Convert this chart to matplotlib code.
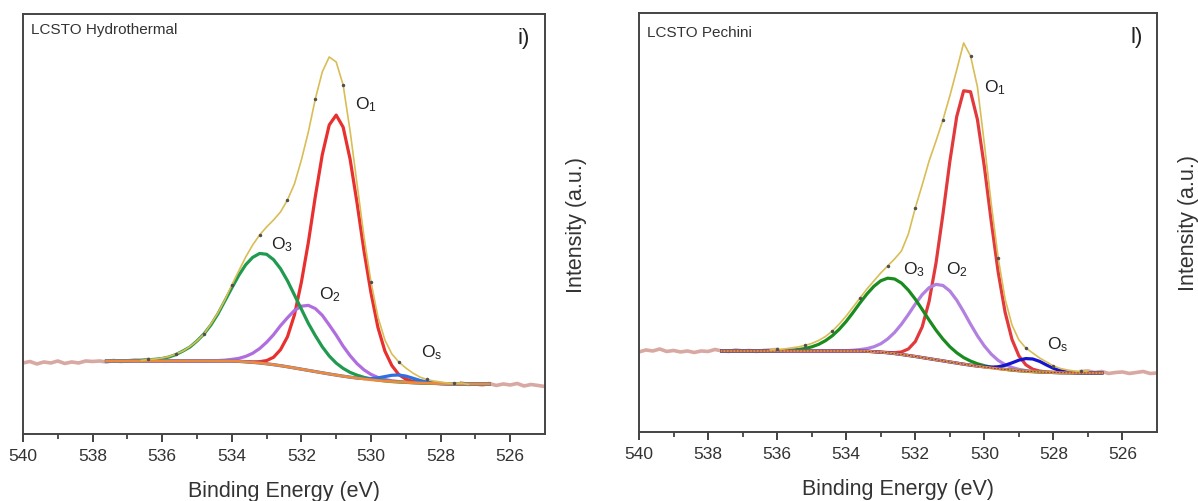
import numpy as np
import matplotlib
matplotlib.use("Agg")
from matplotlib import pyplot as plt
from matplotlib.ticker import FixedLocator

plt.rcParams["font.family"] = ["Liberation Sans", "DejaVu Sans"]
plt.rcParams["mathtext.fontset"] = "custom"
plt.rcParams["mathtext.rm"] = "Liberation Sans"
plt.rcParams["mathtext.it"] = "Liberation Sans:italic"

# ^ energy axes (eV): full scan and fitted window
raw_be = np.round(np.arange(540.0, 524.9, -0.2), 1)
fit_be = np.round(np.arange(537.6, 526.5, -0.2), 1)

# * LCSTO Hydrothermal (intensity in arbitrary units)
hyd_raw = [71, 72.5, 70, 72, 71, 73, 70.5, 72, 71, 73,
           72.5, 73, 72, 73.5, 72.5, 73, 74, 73.5, 74.5, 75,
           76, 77.5, 80, 83, 87.5, 93, 100, 110, 121, 134,
           149, 163, 177, 189, 199, 207, 214, 222, 234, 250,
           274, 302, 335, 362, 377, 372, 349, 303, 250, 197,
           152, 117, 94, 80, 72, 66, 61, 57, 54.5, 53,
           52, 51, 50.5, 51, 49.5, 50, 49, 50.5, 48.5, 50,
           49, 50.5, 48, 49.5, 48.5, 47.5]
hyd_bg = [73, 73, 73, 73, 73, 73, 73, 73,
          73, 73, 73, 73, 73,
          73, 73, 73, 73, 73,
          73, 72.6, 72.2, 71.6, 71.0,
          70.2, 69.3, 68.3, 67.2, 66.0,
          64.8, 63.6, 62.4, 61.2, 60.0,
          58.9, 57.8, 56.8, 55.9, 55.0,
          54.2, 53.5, 52.9, 52.4, 52.0,
          51.6, 51.3, 51.0, 50.8, 50.6,
          50.4, 50.2, 50.1, 50.0, 50.0,
          50.0, 50.0, 50.0]
hyd_o1 = [0, 0, 0, 0, 0, 0, 0, 0,
          0, 0, 0, 0, 0,
          0, 0, 0, 0, 0,
          0, 0, 0.2, 0.5, 1.3,
          3.2, 7.4, 16, 30, 53,
          87, 128, 175, 218, 249,
          260, 249, 218, 175, 128,
          87, 53, 30, 16, 7.4,
          3.2, 1.3, 0.5, 0.2, 0,
          0, 0, 0, 0, 0,
          0, 0, 0]
hyd_o2 = [0, 0, 0, 0, 0, 0, 0, 0,
          0, 0, 0, 0, 0,
          0, 0, 0.2, 0.4, 0.8,
          1.6, 3, 5.4, 9.1, 14.4,
          21.5, 30, 40, 49, 57.5,
          63, 65, 63, 57.5, 49,
          40, 30, 21.5, 14.4, 9.1,
          5.4, 3, 1.6, 0.8, 0.4,
          0.2, 0, 0, 0, 0,
          0, 0, 0, 0, 0,
          0, 0, 0]
hyd_o3 = [0, 0, 0.1, 0.2, 0.4, 0.7, 1.1, 1.7,
          2.5, 4, 6.5, 10, 14,
          20, 27, 36, 47, 60,
          73, 86, 97, 105, 109.5,
          109.5, 105, 97, 86, 73,
          60, 47, 36, 26, 18,
          12, 7.8, 4.8, 2.9, 1.6,
          0.9, 0.5, 0.2, 0, 0,
          0, 0, 0, 0, 0,
          0, 0, 0, 0, 0,
          0, 0, 0]
hyd_os = [0, 0, 0, 0, 0, 0, 0, 0,
          0, 0, 0, 0, 0,
          0, 0, 0, 0, 0,
          0, 0, 0, 0, 0,
          0, 0, 0, 0, 0,
          0, 0, 0, 0, 0,
          0, 0, 0, 0, 0.4,
          1.2, 2.6, 4.5, 6.3, 7,
          6.3, 4.5, 2.6, 1.2, 0.4,
          0, 0, 0, 0, 0,
          0, 0, 0]

# * LCSTO Pechini
pec_raw = [80, 82, 81, 83, 80.5, 81.5, 80, 81, 79.5, 81,
           80.5, 82.5, 81, 80.5, 82, 81, 81.5, 80.5, 81.5, 82,
           82.5, 83, 84, 85, 86.5, 88.5, 91.5, 95.5, 101, 108,
           116, 125, 134, 143, 151, 159, 166, 173, 181, 198,
           224, 247, 271, 291, 312, 336, 362, 389, 376, 345,
           288, 228, 174, 133, 107, 92, 84, 79, 74, 70,
           66, 63.5, 62, 61, 60.5, 61, 59.5, 60.5, 58.5, 59.5,
           60, 58.5, 59.5, 60.5, 58.5, 59]
pec_bg = [81, 81, 81, 81, 81, 81, 81, 81,
          81, 81, 81, 81, 81,
          81, 81, 81, 81, 81,
          81, 81, 81, 80.7, 80.3,
          79.8, 79.2, 78.4, 77.5, 76.5,
          75.5, 74.4, 73.3, 72.2, 71.1,
          70.0, 68.9, 67.8, 66.8, 65.8,
          64.9, 64.0, 63.2, 62.5, 61.8,
          61.2, 60.7, 60.3, 60.0, 59.7,
          59.5, 59.3, 59.2, 59.1, 59.0,
          59.0, 59.0, 59.0]
pec_o1 = [0, 0, 0, 0, 0, 0, 0, 0,
          0, 0, 0, 0, 0,
          0, 0, 0, 0, 0,
          0, 0, 0, 0, 0,
          0, 0.3, 0.9, 2.5, 6.5,
          14.9, 30.7, 57.3, 96.7, 146.5,
          200.3, 246.5, 273.4, 273.4, 246.5,
          200.3, 146.5, 96.7, 57.3, 30.7,
          14.9, 6.5, 2.5, 0.9, 0.3,
          0, 0, 0, 0, 0,
          0, 0, 0]
pec_o2 = [0, 0, 0, 0, 0, 0, 0, 0,
          0, 0, 0, 0, 0,
          0, 0, 0, 0, 0,
          0.3, 0.7, 1.4, 2.7, 4.9,
          8.4, 13.8, 21.1, 30.3, 41,
          52.4, 62.9, 71, 75.4, 75.4,
          71, 62.9, 52.4, 41, 30.3,
          21.1, 13.8, 8.4, 4.9, 2.7,
          1.4, 0.7, 0.3, 0, 0,
          0, 0, 0, 0, 0,
          0, 0, 0]
pec_o3 = [0, 0, 0, 0, 0, 0, 0, 0.1,
          0.2, 0.4, 0.7, 1.4, 2.4,
          4.1, 6.6, 10.3, 15.3, 21.8,
          29.6, 38.6, 48.1, 57.3, 65.3,
          71.4, 74.6, 74.6, 71.4, 65.3,
          57.3, 48.1, 38.6, 29.6, 21.8,
          15.3, 10.3, 6.6, 4.1, 2.4,
          1.4, 0.7, 0.4, 0.2, 0,
          0, 0, 0, 0, 0,
          0, 0, 0, 0, 0,
          0, 0, 0]
pec_os = [0, 0, 0, 0, 0, 0, 0, 0,
          0, 0, 0, 0, 0,
          0, 0, 0, 0, 0,
          0, 0, 0, 0, 0,
          0, 0, 0, 0, 0,
          0, 0, 0, 0, 0,
          0, 0, 0, 0, 0.1,
          0.3, 0.8, 2.0, 4.2, 7.3,
          10.6, 12.7, 12.7, 10.6, 7.3,
          4.2, 2.0, 0.8, 0.3, 0.1,
          0, 0, 0]

# ^ label positions (eV, intensity)
hyd_labels = [("O$_1$", 530.45, 330), ("O$_3$", 532.87, 190),
              ("O$_2$", 531.5, 140), (r"O$_\mathrm{s}$", 528.56, 82)]
pec_labels = [("O$_1$", 530.0, 345), ("O$_3$", 532.35, 163),
              ("O$_2$", 531.1, 163), (r"O$_\mathrm{s}$", 528.2, 88)]

panels = [
    dict(rect=[0.0192, 0.1335, 0.4357, 0.8367], top=420, title="LCSTO Hydrothermal",
         tag="i)", raw=hyd_raw, bg=hyd_bg, comps=[hyd_o1, hyd_o2, hyd_o3, hyd_os],
         colors=["#e8302e", "#b06de0", "#1f9a4e", "#2f6fe0"], bg_line=None,
         window=(536.4, 527.4), labels=hyd_labels, title_y=0.964, tag_y=0.945),
    dict(rect=[0.5334, 0.1375, 0.4324, 0.8347], top=419, title="LCSTO Pechini",
         tag="l)", raw=pec_raw, bg=pec_bg, comps=[pec_o1, pec_o2, pec_o3, pec_os],
         colors=["#e23a3c", "#b280e0", "#1a8c1f", "#1414d2"], bg_line="#3a3a8a",
         window=(536.0, 527.2), labels=pec_labels, title_y=0.955, tag_y=0.943),
]

fig = plt.figure(figsize=(11.98, 5.02), dpi=100)

for p in panels:
    ax = fig.add_axes(p["rect"])
    raw = np.array(p["raw"])
    bg = np.array(p["bg"])
    hi, lo = p["window"]

    # ^ raw scan outside the fitted window
    left = raw_be >= hi
    right = raw_be <= lo
    ax.plot(raw_be[left], raw[left], color="#d8a8a2", lw=2.6, zorder=1)
    ax.plot(raw_be[right], raw[right], color="#d8a8a2", lw=2.6, zorder=1)

    # ^ fitted components on top of the background
    for comp, col in zip(p["comps"], p["colors"]):
        ax.plot(fit_be, bg + np.array(comp), color=col, lw=2.3, zorder=3)
    ax.plot(fit_be, bg, color="#ee8a3a", lw=2.0, zorder=4)
    if p["bg_line"]:
        ax.plot(fit_be, bg, color=p["bg_line"], lw=0.6, ls=(0, (2, 2)), zorder=4)

    # ^ data in the fitted window: envelope line plus a few points
    mid = (raw_be <= hi + 0.2) & (raw_be >= lo - 0.2)
    ax.plot(raw_be[mid], raw[mid], color="#d9bd55", lw=1.2, zorder=5)
    ax.plot(raw_be[mid][1::4], raw[mid][1::4], "o", ms=1.5, color="#505050", zorder=6)

    for txt, x, y in p["labels"]:
        ax.text(x, y, txt, fontsize=12.5, ha="left", va="center", color="#222222")

    ax.text(0.015, p["title_y"], p["title"], transform=ax.transAxes,
            fontsize=11, ha="left", va="center", color="#333333")
    ax.text(0.96, p["tag_y"], p["tag"], transform=ax.transAxes,
            fontsize=16, ha="center", va="center", color="#222222")

    ax.set_xlim(540, 525)
    ax.set_ylim(0, p["top"])
    ax.set_xticks(np.arange(540, 525, -2))
    ax.xaxis.set_minor_locator(FixedLocator([539, 537, 535, 533, 531, 529, 527]))
    ax.tick_params(axis="x", which="major", direction="out", length=6, width=1.3,
                   labelsize=12.5, pad=4, colors="#333333")
    ax.tick_params(axis="x", which="minor", direction="out", length=3.5, width=1.2,
                   colors="#333333")
    ax.set_yticks([])
    for s in ax.spines.values():
        s.set_linewidth(1.4)
        s.set_color("#444444")

    ax.set_xlabel("Binding Energy (eV)", fontsize=15.5, labelpad=12, color="#333333")
    ax.yaxis.set_label_position("right")
    ax.set_ylabel("Intensity (a.u.)", fontsize=15.5, labelpad=15, color="#333333")

fig.savefig("out.png", dpi=100, facecolor="white")
